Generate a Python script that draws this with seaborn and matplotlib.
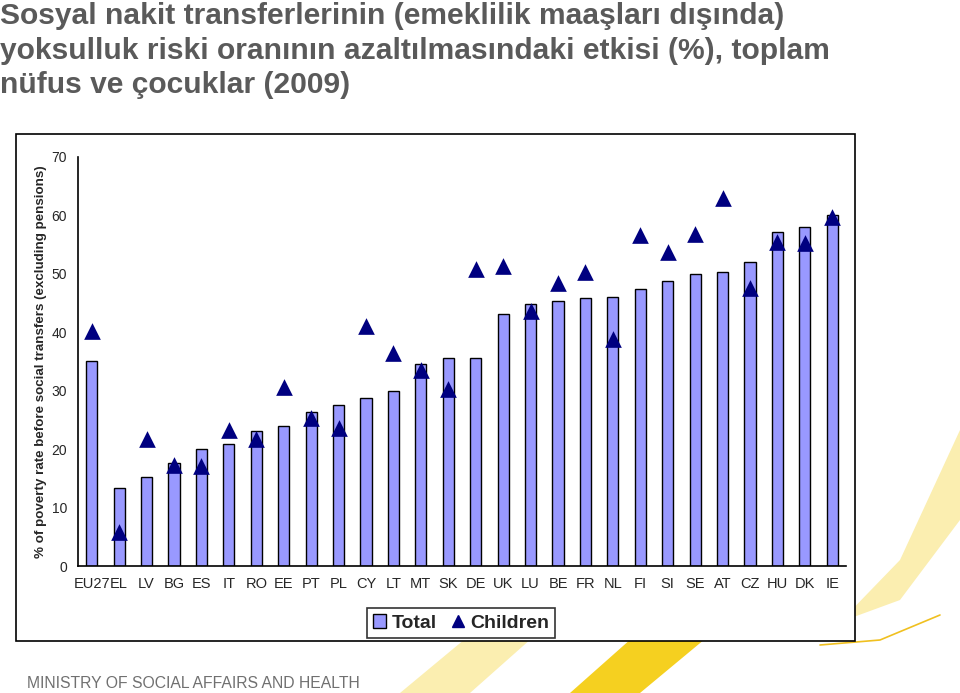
import matplotlib
matplotlib.use("Agg")
import matplotlib.pyplot as plt
import seaborn as sns
import pandas as pd
from matplotlib.patches import Rectangle, Patch, Polygon
from matplotlib.lines import Line2D

countries = ["EU27", "EL", "LV", "BG", "ES", "IT", "RO", "EE", "PT", "PL", "CY", "LT", "MT", "SK",
             "DE", "UK", "LU", "BE", "FR", "NL", "FI", "SI", "SE", "AT", "CZ", "HU", "DK", "IE"]
total = [35.1, 13.3, 15.2, 17.6, 20.1, 20.8, 23.1, 24.0, 26.4, 27.6, 28.7, 29.9, 34.6, 35.6,
         35.6, 43.2, 44.9, 45.4, 45.8, 46.0, 47.4, 48.7, 50.0, 50.3, 52.0, 57.2, 58.0, 60.1]
children = [40.3, 5.9, 21.7, 17.3, 17.1, 23.2, 21.7, 30.6, 25.4, 23.6, 41.1, 36.4, 33.5, 30.3,
            50.8, 51.3, 43.7, 48.5, 50.3, 38.9, 56.6, 53.7, 56.9, 62.9, 47.5, 55.5, 55.2, 59.8]
yticks = [0, 10, 20, 30, 40, 50, 60, 70]

df = pd.DataFrame({"country": countries, "Total": total, "Children": children})

sns.set_style("white")
plt.rcParams["font.family"] = ["Liberation Sans", "DejaVu Sans"]

W, H = 960, 693
fig = plt.figure(figsize=(W / 100, H / 100), dpi=100)

def fx(px):
    return px / W

def fy(py):
    return 1 - py / H

# decorative yellow shapes (bottom right)
deco = fig.add_axes([0, 0, 1, 1], zorder=-5)
deco.set_xlim(0, W)
deco.set_ylim(H, 0)
deco.axis("off")
deco.add_patch(Polygon([[570, 693], [640, 693], [800, 560], [720, 560]], closed=True,
                       facecolor="#f5d020", edgecolor="none"))
deco.add_patch(Polygon([[400, 693], [470, 693], [620, 560], [560, 560]], closed=True,
                       facecolor="#fbeeb0", edgecolor="none"))
deco.add_patch(Polygon([[840, 622], [900, 600], [960, 520], [960, 430], [900, 560]], closed=True,
                       facecolor="#fbeeb0", edgecolor="none"))
deco.plot([820, 880, 940], [645, 640, 615], color="#f0c020", lw=1.2)

# outer chart border
fig.add_artist(Rectangle((fx(16), fy(641)), fx(855) - fx(16), fy(134) - fy(641),
                         transform=fig.transFigure, fill=True, facecolor="white",
                         edgecolor="black", lw=1.2, zorder=-1))

ax = fig.add_axes([fx(78), fy(566), fx(846) - fx(78), fy(157) - fy(566)])
ax.patch.set_alpha(0)

sns.barplot(data=df, x="country", y="Total", color="#9999FF", edgecolor="black",
            linewidth=1.0, width=0.41, saturation=1, ax=ax, zorder=2)
sns.stripplot(data=df, x="country", y="Children", color="#000080", marker="^",
              size=12, jitter=False, linewidth=0, ax=ax, zorder=3)

ax.set_ylim(0, 70)
ax.set_xlim(-0.5, len(countries) - 0.5)
ax.set_yticks(yticks)
ax.set_yticklabels([str(t) for t in yticks], fontsize=10)
ax.set_xticks(range(len(countries)))
ax.set_xticklabels(countries, fontsize=10.5)
ax.tick_params(axis="x", length=0, pad=8)
ax.tick_params(axis="y", direction="inout", length=8, width=1, pad=4)
# x ticks at category boundaries
ax.set_xticks([i + 0.5 for i in range(-1, len(countries))], minor=True)
ax.tick_params(axis="x", which="minor", direction="inout", length=8, width=1)
ax.set_xlabel("")
ax.set_ylabel("% of poverty rate before social transfers (excluding pensions)",
              fontsize=9.6, fontweight="bold", labelpad=3)
for s in ["top", "right"]:
    ax.spines[s].set_visible(False)
for s in ["left", "bottom"]:
    ax.spines[s].set_color("black")
    ax.spines[s].set_linewidth(1.2)

handles = [Patch(facecolor="#9999FF", edgecolor="black", label="Total"),
           Line2D([], [], marker="^", color="#000080", linestyle="none", markersize=9,
                  label="Children")]
leg = fig.legend(handles=handles, loc="center", bbox_to_anchor=(fx(461), fy(623)), ncol=2,
                 frameon=True, fancybox=False, edgecolor="black",
                 prop={"weight": "bold", "size": 14}, handlelength=0.7, handleheight=0.7,
                 handletextpad=0.3, columnspacing=0.7, borderpad=0.3)
leg.get_frame().set_linewidth(1.2)

fig.text(0.0, fy(2), "Sosyal nakit transferlerinin (emeklilik maaşları dışında)\n"
         "yoksulluk riski oranının azaltılmasındaki etkisi (%), toplam\n"
         "nüfus ve çocuklar (2009)", ha="left", va="top", fontsize=21.6,
         fontweight="bold", color="#5a5a5a", linespacing=1.3)

fig.text(fx(27), fy(684), "MINISTRY OF SOCIAL AFFAIRS AND HEALTH", ha="left", va="center",
         fontsize=11.3, color="#707070")

fig.savefig("out.png", dpi=100)
